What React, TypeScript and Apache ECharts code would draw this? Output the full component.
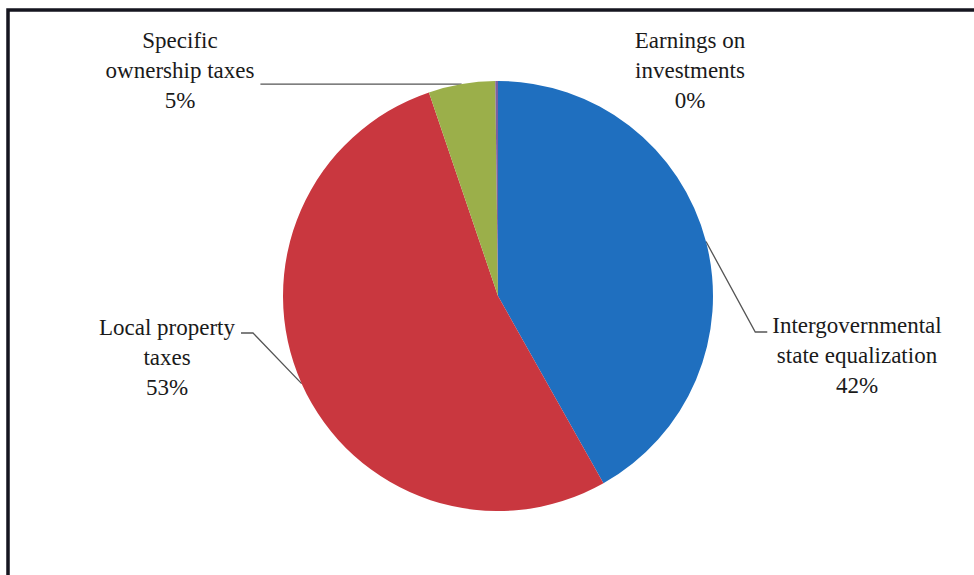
import React, { useEffect, useRef } from "react";
import * as echarts from "echarts";

// ---- data ----
const categories = [
  "Intergovernmental\nstate equalization",
  "Local property\ntaxes",
  "Specific\nownership taxes",
  "Earnings on\ninvestments",
];
const values = [41.8, 52.9, 5.0, 0.2];
const colors = ["#1F6FBF", "#C9373F", "#9BAF4A", "#7D5FA0"];

// ---- layout ----
const CX = 498;
const CY = 296;
const R = 215;
const FONT = "'Liberation Serif', serif";
const labelPlacement: {
  x: number;
  y: number;
  attachY: number | "edge" | null;
  side: "left" | "right" | null;
}[] = [
  { x: 857, y: 310, attachY: 332, side: "left" },
  { x: 167, y: 312, attachY: 333, side: "right" },
  { x: 180, y: 25, attachY: "edge", side: "right" },
  { x: 690, y: 25, attachY: null, side: null },
];

function edgePoint(idx: number): number[] {
  const total = values.reduce((a, b) => a + b, 0);
  let cum = 0;
  for (let i = 0; i < idx; i++) cum += values[i];
  const mid = ((cum + values[idx] / 2) / total) * Math.PI * 2;
  return [CX + R * Math.sin(mid), CY - R * Math.cos(mid)];
}

export default function App() {
  const ref = useRef<HTMLDivElement>(null);
  useEffect(() => {
    if (!ref.current) return;
    const chart = echarts.init(ref.current, undefined, { renderer: "svg" });
    const option: any = {
      animation: false,
      backgroundColor: "#ffffff",
      textStyle: { fontFamily: FONT },
      graphic: [
        {
          type: "polyline",
          silent: true,
          shape: { points: [[8, 580], [8, 10], [980, 10]] },
          style: { stroke: "#15151f", lineWidth: 3.5, fill: "none" },
        },
      ],
      series: [
        {
          type: "pie",
          center: [CX, CY],
          radius: R,
          startAngle: 90,
          clockwise: true,
          avoidLabelOverlap: false,
          silent: true,
          itemStyle: { borderWidth: 0 },
          emphasis: { disabled: true },
          label: {
            show: true,
            position: "outside",
            fontFamily: FONT,
            fontSize: 23,
            lineHeight: 30,
            color: "#1a1a1a",
            align: "center",
            formatter: (p: any) => `${p.name}\n${Math.round(p.percent)}%`,
          },
          labelLine: {
            show: true,
            length: 20,
            length2: 12,
            lineStyle: { color: "#555555", width: 1.3 },
          },
          labelLayout: (p: any) => {
            const pl = labelPlacement[p.dataIndex];
            const w = p.labelRect.width;
            const res: any = { x: pl.x, y: pl.y, align: "center", verticalAlign: "top" };
            if (pl.side && pl.attachY !== null) {
              const start =
                p.labelLinePoints && p.labelLinePoints[0]
                  ? [p.labelLinePoints[0][0], p.labelLinePoints[0][1]]
                  : edgePoint(p.dataIndex);
              const ay = pl.attachY === "edge" ? start[1] : pl.attachY;
              const ex = pl.side === "right" ? pl.x + w / 2 + 6 : pl.x - w / 2 - 5;
              const bx = pl.side === "right" ? ex + 12 : ex - 12;
              res.labelLinePoints = [start, [bx, ay], [ex, ay]];
            }
            return res;
          },
          data: categories.map((name, i) => ({
            name,
            value: values[i],
            itemStyle: { color: colors[i] },
            labelLine: i === 3 ? { show: false } : undefined,
          })),
        },
      ],
    };
    chart.setOption(option);
    return () => chart.dispose();
  }, []);
  return (
    <div
      ref={ref}
      style={{ position: "fixed", left: 0, top: 0, width: 974, height: 575, background: "#fff" }}
    />
  );
}
